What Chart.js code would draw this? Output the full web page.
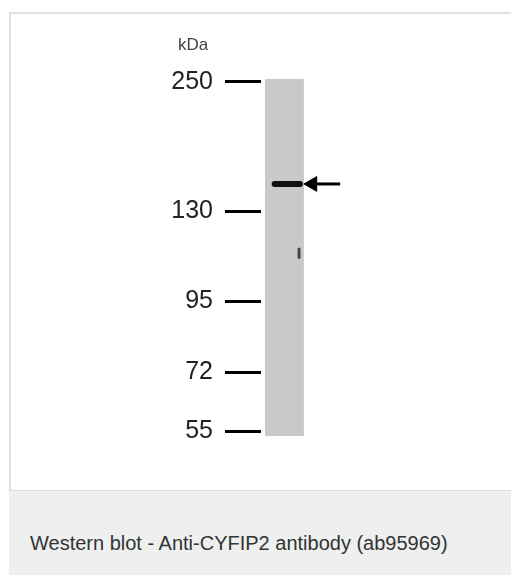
<!DOCTYPE html>
<html>
<head>
<meta charset="utf-8">
<title>Western blot - Anti-CYFIP2 antibody (ab95969)</title>
<script src="https://cdn.jsdelivr.net/npm/chart.js@4.4.1/dist/chart.umd.min.js"></script>
<style>
    body { margin: 0; background: #fff; font-family: "Liberation Sans", Arial, sans-serif; }
    #frame { position: absolute; left: 9px; top: 12px; width: 502px; height: 563px;
             border-left: 2px solid #e1e1e1; border-top: 2px solid #e1e1e1; box-sizing: border-box; }
    #blot { position: absolute; left: 0; top: 0; }
    #unit { position: absolute; left: 178px; top: 35px; font-size: 17px; color: #444; }
    #caption { position: absolute; left: 9px; top: 490px; width: 502px; height: 85px;
               background: #eeefef; border-top: 1px solid #dcdcdc; box-sizing: border-box; }
    #captext { position: absolute; left: 30px; top: 532px; font-size: 20px; color: #333; white-space: nowrap; }
</style>
</head>
<body>
<div id="frame"></div>
<canvas id="blot" width="511" height="490"></canvas>
<div id="unit">kDa</div>
<div id="caption"></div>
<div id="captext">Western blot - Anti-CYFIP2 antibody (ab95969)</div>
<script>
// marker ladder: molecular weight and relative mobility (0 = top of lane, 1 = bottom)
var markerKDa = [250, 130, 95, 72, 55];
var markerRf = [0.008, 0.370, 0.622, 0.821, 0.986];

// the single lane
var laneX = [0.5, 1.5];
var laneRf = [0, 1];

// detected band (~150 kDa, CYFIP2) and the arrow pointing at it
var bandKDa = 150;
var bandRf = 0.294;
var bandX = [0.75, 1.40];
var arrowX = [1.51, 2.43];

// small dark speck in the lane
var spotX = [1.375, 1.375];
var spotRf = [0.476, 0.500];

// arrow head: triangle marker sits a little right of the tip
var headOffset = 0.21;

function pts(xs, ys) {
    var out = [];
    for (var i = 0; i < xs.length; i++) {
        out.push({ x: xs[i], y: ys[i] });
    }
    return out;
}

var ctx = document.getElementById('blot').getContext('2d');
var blot = new Chart(ctx, {
    type: 'scatter',
    data: {
        datasets: [
            {
                label: 'lane top',
                data: pts(laneX, [laneRf[0], laneRf[0]]),
                showLine: true, borderWidth: 0, pointRadius: 0,
                backgroundColor: '#c9c9c9', fill: '+1', order: 10
            },
            {
                label: 'lane bottom',
                data: pts(laneX, [laneRf[1], laneRf[1]]),
                showLine: true, borderWidth: 0, pointRadius: 0, order: 11
            },
            {
                label: 'band ' + bandKDa + ' kDa',
                data: pts(bandX, [bandRf, bandRf]),
                showLine: true, borderWidth: 6, borderColor: '#111',
                borderCapStyle: 'round', pointRadius: 0, order: 1
            },
            {
                label: 'speck',
                data: pts(spotX, spotRf),
                showLine: true, borderWidth: 3, borderColor: '#444',
                borderCapStyle: 'round', pointRadius: 0, order: 1
            },
            {
                label: 'arrow shaft',
                data: pts([arrowX[0] + headOffset, arrowX[1]], [bandRf, bandRf]),
                showLine: true, borderWidth: 3, borderColor: '#000', pointRadius: 0, order: 1
            },
            {
                label: 'arrow head',
                data: pts([arrowX[0] + headOffset], [bandRf]),
                pointStyle: 'triangle', pointRotation: -90, pointRadius: 8.5,
                backgroundColor: '#000', borderColor: '#000', borderWidth: 1, order: 0
            }
        ]
    },
    options: {
        responsive: false,
        animation: false,
        layout: { autoPadding: false, padding: { left: 0, right: 0, top: 79, bottom: 54 } },
        plugins: {
            legend: { display: false },
            tooltip: { enabled: false }
        },
        scales: {
            x: {
                type: 'linear', min: 0.4, max: 6.81, display: false
            },
            y: {
                type: 'linear', reverse: true, min: 0, max: 1,
                afterFit: function (scale) { scale.width = 261; },
                afterBuildTicks: function (scale) {
                    scale.ticks = markerRf.map(function (v) { return { value: v }; });
                },
                border: { display: false },
                grid: {
                    drawOnChartArea: false, drawTicks: true,
                    tickLength: 36, tickWidth: 3, tickColor: '#000'
                },
                ticks: {
                    padding: 12, color: '#222',
                    font: { family: '"Liberation Sans", Arial, sans-serif', size: 25 },
                    callback: function (value) {
                        var i = markerRf.indexOf(value);
                        return i >= 0 ? String(markerKDa[i]) : '';
                    }
                }
            }
        }
    }
});
</script>
</body>
</html>
